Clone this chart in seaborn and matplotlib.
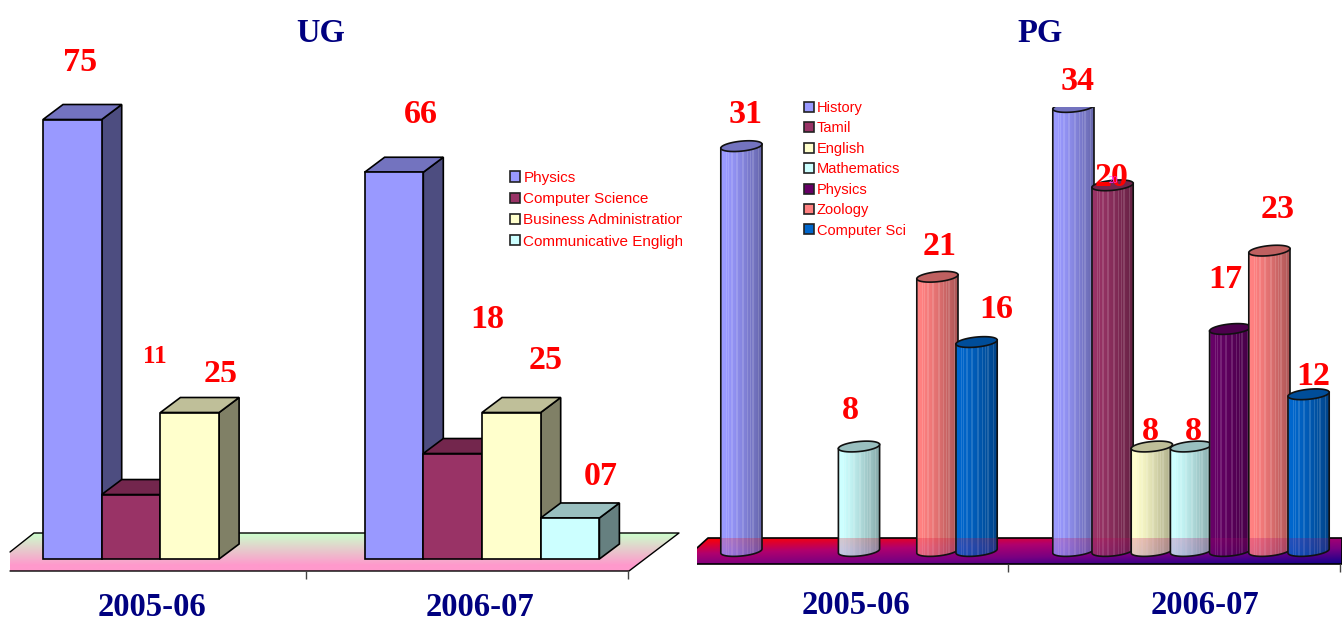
# -*- coding: utf-8 -*-
"""
UG and PG student numbers, redrawn in the old 3D office chart look.
"""
import numpy as np
import pandas as pd
import matplotlib
matplotlib.use('Agg')
import matplotlib.pyplot as plt
import seaborn as sns
from matplotlib.patches import Patch, Polygon
from matplotlib.transforms import Bbox

years = ["2005-06", "2006-07"]

ug_courses = ["Physics", "Computer Science", "Business Administration", "Communicative Engligh"]
ug_2005 = [75, 11, 25, np.nan]
ug_2006 = [66, 18, 25, 7]
ug_labels = ["75", "11", "25", "66", "18", "25", "07"]
ug_colors = ["#9999FF", "#993366", "#FFFFCC", "#CCFFFF"]

pg_courses = ["History", "Tamil", "English", "Mathematics", "Physics", "Zoology", "Computer Sci"]
pg_2005 = [31, np.nan, np.nan, 8, np.nan, 21, 16]
pg_2006 = [34, 28, 8, 8, 17, 23, 12]
pg_labels = ["31", "8", "21", "16", "34", "20", "8", "8", "17", "23", "12"]
pg_colors = ["#9999FF", "#993366", "#FFFFCC", "#CCFFFF", "#660066", "#FF8080", "#0066CC"]

# label offsets from the top middle of each bar, in pixels
ug_offsets = [(8, 59), (24, 140), (31, 40), (27, 60), (35, 136), (34, 54), (31, 43)]
pg_offsets = [(5, 34), (-8, 38), (3, 32), (21, 35), (5, 27), (0, 10), (0, 17), (3, 17), (-4, 51), (9, 43), (6, 20)]

W, H = 1342, 622
RED = "#FF0000"
NAVY = "#000080"
SERIF = "Liberation Serif"
SANS = "Liberation Sans"


def make_axes(fig, left, right, top, bottom):
    return fig.add_axes([left / W, 1 - bottom / H, (right - left) / W, (bottom - top) / H])


def tidy(courses, first, second):
    rows = []
    for year, values in zip(years, [first, second]):
        for course, value in zip(courses, values):
            rows.append({"year": year, "course": course, "students": value})
    return pd.DataFrame(rows)


def real_bars(ax):
    bars = [p for p in ax.patches if p.get_height() > 0]
    return sorted(bars, key=lambda p: p.get_x())


def add_labels(ax, bars, labels, offsets, size):
    for bar, text, (dx, dy) in zip(bars, labels, offsets):
        fs = 18 if text == "11" else size
        ann = ax.annotate(text, xy=(bar.get_x() + bar.get_width() / 2, bar.get_height()),
                          xytext=(dx, dy - 2), textcoords="offset pixels", ha="center", va="center",
                          color=RED, fontsize=fs, fontweight="bold", family=SERIF,
                          annotation_clip=False, zorder=60)
        ann.set_clip_on(False)


def add_legend(ax, courses, colors, x, y, fontsize, spacing, clip_right):
    handles = [Patch(facecolor=c, edgecolor="#222222", linewidth=1.2) for c in colors]
    leg = ax.legend(handles, courses, loc="upper left", bbox_to_anchor=(x / W, 1 - y / H),
                    bbox_transform=ax.figure.transFigure, frameon=False, fontsize=fontsize,
                    labelcolor=RED, prop={"family": SANS, "size": fontsize}, handlelength=0.68,
                    handleheight=0.68, handletextpad=0.2, labelspacing=spacing, borderpad=0,
                    borderaxespad=0)
    leg.set_zorder(70)
    for t in leg.get_texts():
        t.set_clip_box(Bbox([[0, 0], [clip_right, H]]))
        t.set_clip_on(True)


def draw_ug(ax):
    # 5.86 pixels for one student, baseline at 559, categories 321.6 pixels apart
    sx, sy = 321.6, 5.86
    px_x = lambda px: (px - 160.4) / sx
    px_y = lambda px: (559 - px) / sy

    df = tidy(ug_courses, ug_2005, ug_2006)
    sns.barplot(data=df, x="year", y="students", hue="course", hue_order=ug_courses,
                palette=ug_colors, width=0.73, gap=0, saturation=1, edgecolor="black",
                linewidth=1.2, legend=False, ax=ax)

    # floor
    corners = [(10, 571), (629, 571), (679, 533), (34, 533), (10, 552)]
    poly = [(px_x(a), px_y(b)) for a, b in corners]
    top = np.array([0xCC, 0xFF, 0xCC]) / 255
    low = np.array([0xFF, 0x99, 0xCC]) / 255
    v = np.clip(np.linspace(0, 1, 60) / 0.85, 0, 1)[:, None]
    floor = (top * (1 - v) + low * v)[:, None, :]
    im = ax.imshow(floor, extent=[px_x(10), px_x(679), px_y(571), px_y(533)], aspect="auto", zorder=1)
    im.set_clip_path(Polygon(poly, transform=ax.transData))
    xs, ys = zip(*(poly + [poly[0]]))
    ax.plot(xs[:5], ys[:5], color="black", lw=1, zorder=2)
    ax.vlines([px_x(306), px_x(628)], px_y(579), px_y(571), color="#444444", lw=1, zorder=2)

    # depth of the boxes
    dx, dy = 20 / sx, 15 / sy
    bars = real_bars(ax)
    for i, bar in enumerate(bars):
        x0, w, h = bar.get_x(), bar.get_width(), bar.get_height()
        color = np.array(matplotlib.colors.to_rgb(bar.get_facecolor()))
        z = 5 + i * 3
        bar.set_zorder(z + 2)
        ax.add_patch(Polygon([(x0 + w, 0), (x0 + w + dx, dy), (x0 + w + dx, h + dy), (x0 + w, h)],
                             facecolor=color * 0.5, edgecolor="black", lw=1.2, zorder=z))
        ax.add_patch(Polygon([(x0, h), (x0 + dx, h + dy), (x0 + w + dx, h + dy), (x0 + w, h)],
                             facecolor=color * 0.75, edgecolor="black", lw=1.2, zorder=z + 1))

    add_labels(ax, bars, ug_labels, ug_offsets, 24.5)
    # the first 25 loses its bottom edge in the original
    ax.texts[2].set_clip_box(Bbox([[0, H - 382], [W, H]]))
    ax.texts[2].set_clip_on(True)
    add_legend(ax, ug_courses, ug_colors, 510, 171, 11, 0.47, 682)

    ax.set_xlim(px_x(0), px_x(682))
    ax.set_ylim(px_y(622), px_y(0))
    ax.axis("off")


def cylinder_ring(cx, cy, a, b, k, t):
    return cx + a * np.cos(t), cy + b * np.sin(t) + k * np.cos(t)


def draw_pg(ax):
    # 13.06 pixels for one student, baseline at 551, the axes top cuts the tallest bar
    sx, sy = 332.0, 13.06
    px_x = lambda px: (px - 858) / sx
    px_y = lambda px: (551 - px) / sy

    df = tidy(pg_courses, pg_2005, pg_2006)
    sns.barplot(data=df, x="year", y="students", hue="course", hue_order=pg_courses,
                palette=pg_colors, width=0.8265, gap=0, saturation=1, linewidth=0,
                legend=False, ax=ax)

    # floor, red in the back left corner to dark blue in the front right one
    corners = [(697, 564), (1342, 564), (1342, 538), (708, 538), (697, 548)]
    poly = [(px_x(a), px_y(b)) for a, b in corners]
    u, v = np.meshgrid(np.linspace(0, 1, 200), np.linspace(0, 1, 40))
    t = (0.42 * u + 0.58 * v)[:, :, None]
    stops = np.array([[255, 0, 0], [176, 0, 110], [120, 0, 130], [20, 0, 140]]) / 255
    pos = np.array([0, 0.35, 0.65, 1.0])
    floor = np.stack([np.interp(t[:, :, 0], pos, stops[:, c]) for c in range(3)], axis=2)
    extent = [px_x(697), px_x(1342), px_y(564), px_y(538)]
    im = ax.imshow(floor, extent=extent, aspect="auto", zorder=1)
    im.set_clip_path(Polygon(poly, transform=ax.transData))
    xs, ys = zip(*(poly + [poly[0]]))
    ax.plot(xs[:5], ys[:5], color="black", lw=1.2, zorder=2)
    ax.vlines([px_x(1008), px_x(1340)], px_y(572), px_y(564), color="#444444", lw=1, zorder=2)

    b, k = 5.0 / sy, 2.0 / sy
    bars = real_bars(ax)
    for i, bar in enumerate(bars):
        x0, w, h = bar.get_x(), bar.get_width(), bar.get_height()
        # the drawn cylinder is a little wider than its slot and overlaps the next one
        a = (w + 2 / sx) / 2
        cx = x0 + a
        color = np.array(matplotlib.colors.to_rgb(bar.get_facecolor()))
        z = 5 + i * 5

        low_x, low_y = cylinder_ring(cx, 0, a, b, k, np.linspace(np.pi, 2 * np.pi, 40))
        body = list(zip(low_x, low_y)) + [(cx + a, h + k), (cx - a, h - k)]
        bar.set_zorder(z)
        clip = Polygon(body, transform=ax.transData)
        bar.set_clip_path(clip)

        # shading across the cylinder with thin lighter stripes
        cols = 40
        idx = np.arange(cols)
        shade = 1.02 - 0.36 * np.linspace(0, 1, cols) ** 1.3
        stripe = ((idx % 5 == 0) | (idx % 7 == 0))[:, None]
        rgb = np.clip(color[None, :] * shade[:, None], 0, 1)
        rgb = np.where(stripe, rgb * 0.86 + 0.14, rgb)
        sh = ax.imshow(rgb[None, :, :], extent=[cx - a, cx + a, -2 * b - k, h + k], aspect="auto",
                       interpolation="nearest", zorder=z + 1)
        sh.set_clip_path(clip)

        # the floor shows through at the foot of the cylinder
        tint = ax.imshow(floor, extent=extent, aspect="auto", alpha=0.22, zorder=z + 2)
        tint.set_clip_path(clip)

        ax.add_patch(Polygon(body, fill=False, edgecolor="#111111", lw=1.2, zorder=z + 3))
        top_x, top_y = cylinder_ring(cx, h, a, b, k, np.linspace(0, 2 * np.pi, 60))
        ax.add_patch(Polygon(list(zip(top_x, top_y)), facecolor=color * 0.75, edgecolor="#111111",
                             lw=1.2, zorder=z + 4))

    add_labels(ax, bars, pg_labels, pg_offsets, 24.5)
    # faint second copy of the Tamil label in the original
    tamil = bars[5]
    ax.annotate(pg_labels[5], xy=(tamil.get_x() + tamil.get_width() / 2, tamil.get_height()),
                xytext=(2, 5), textcoords="offset pixels", ha="center", va="center",
                color="#FF33FF", fontsize=7, family=SERIF, annotation_clip=False, zorder=61)
    add_legend(ax, pg_courses, pg_colors, 804, 101, 10.5, 0.44, 905)

    ax.set_xlim(px_x(697), px_x(1342))
    ax.set_ylim(px_y(622), px_y(107))
    ax.axis("off")


if __name__ == '__main__':
    sns.set_style("white")
    plt.rcParams['font.family'] = [SERIF, 'DejaVu Serif']
    fig = plt.figure(figsize=(W / 100, H / 100), dpi=100, facecolor="white")

    draw_ug(make_axes(fig, 0, 682, 0, 622))
    draw_pg(make_axes(fig, 697, 1342, 107, 622))

    for text, x, y in [("UG", 321, 34), ("PG", 1040, 34), ("2005-06", 152, 607),
                       ("2006-07", 480, 607), ("2005-06", 856, 606), ("2006-07", 1205, 606)]:
        fig.text(x / W, 1 - y / H, text, color=NAVY, fontsize=23.5, fontweight="bold",
                 ha="center", va="center", family=SERIF)

    fig.savefig("out.png", dpi=100)
